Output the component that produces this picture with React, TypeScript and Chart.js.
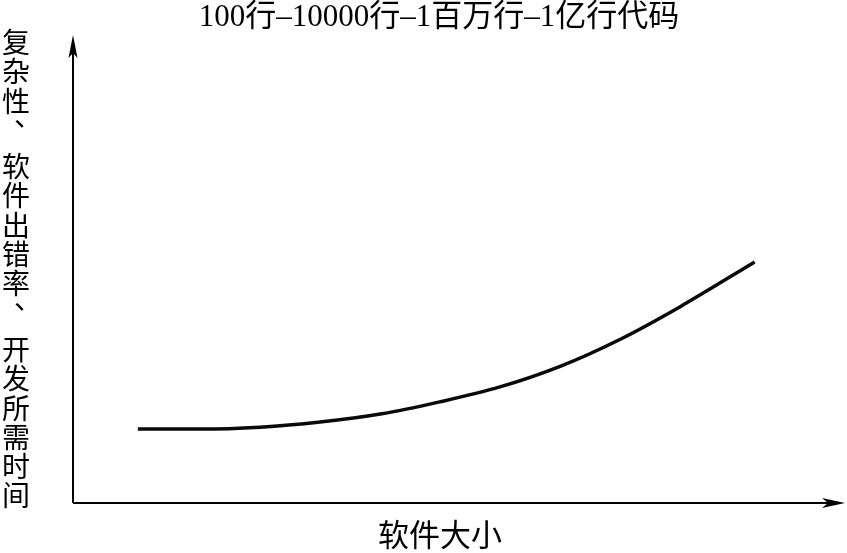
import React, { useEffect, useRef } from "react";
import { Chart, registerables } from "chart.js";

Chart.register(...registerables);

const titleText = "100行–10000行–1百万行–1亿行代码";
const yLabel = "复杂性、软件出错率、开发所需时间";
const xLabel = "软件大小";

const sizeValues = [8.4, 16.5, 24.2, 32.0, 39.8, 47.5, 55.3, 63.1, 70.9, 78.6, 88.3];
const complexityValues = [15.8, 15.8, 16.2, 17.3, 19.0, 21.6, 24.8, 29.2, 35.0, 41.9, 51.5];

const arrowAxes = {
  id: "arrowAxes",
  afterDraw(chart: any) {
    const { ctx, chartArea } = chart;
    const { left, right, top, bottom } = chartArea;
    ctx.save();
    ctx.strokeStyle = "#000";
    ctx.fillStyle = "#000";
    ctx.lineWidth = 2;
    ctx.beginPath();
    ctx.moveTo(left, bottom);
    ctx.lineTo(right - 10, bottom);
    ctx.moveTo(left, bottom);
    ctx.lineTo(left, top + 10);
    ctx.stroke();
    ctx.beginPath();
    ctx.moveTo(right, bottom);
    ctx.lineTo(right - 23, bottom - 5);
    ctx.lineTo(right - 17, bottom);
    ctx.lineTo(right - 23, bottom + 5);
    ctx.closePath();
    ctx.fill();
    ctx.beginPath();
    ctx.moveTo(left, top);
    ctx.lineTo(left - 4.5, top + 23);
    ctx.lineTo(left, top + 18);
    ctx.lineTo(left + 4.5, top + 23);
    ctx.closePath();
    ctx.fill();
    ctx.restore();
  },
};

export default function App() {
  const ref = useRef<HTMLCanvasElement>(null);
  useEffect(() => {
    if (!ref.current) return;
    const chart = new Chart(ref.current, {
      type: "line",
      data: {
        datasets: [
          {
            data: sizeValues.map((x, i) => ({ x, y: complexityValues[i] })),
            borderColor: "#0a0a0a",
            borderWidth: 3.5,
            pointRadius: 0,
            cubicInterpolationMode: "monotone",
            fill: false,
          },
        ],
      },
      options: {
        animation: false,
        responsive: false,
        layout: { padding: { left: 73, top: 35, right: 2, bottom: 50 } },
        plugins: { legend: { display: false }, tooltip: { enabled: false }, title: { display: false } },
        scales: {
          x: { type: "linear", min: 0, max: 100, display: false },
          y: { type: "linear", min: 0, max: 100, display: false },
        },
      },
      plugins: [arrowAxes],
    });
    return () => chart.destroy();
  }, []);

  const font = '"Liberation Serif", "Noto Sans CJK SC", serif';
  const cjk = '"Noto Sans CJK SC", sans-serif';
  return (
    <div style={{ position: "fixed", left: 0, top: 0, width: 847, height: 553, background: "#fff" }}>
      <canvas ref={ref} width={847} height={553} style={{ position: "absolute", left: 0, top: 0 }} />
      <div
        style={{
          position: "absolute",
          left: 0,
          top: -2,
          width: 878,
          textAlign: "center",
          fontFamily: font,
          fontSize: 31,
          lineHeight: "36px",
          color: "#000",
          whiteSpace: "nowrap",
        }}
      >
        {titleText}
      </div>
      <div style={{ position: "absolute", left: 2, top: 27, width: 30, fontFamily: cjk, fontSize: 28, color: "#000" }}>
        {Array.from(yLabel).map((c, i) =>
          c === "、" ? (
            <div key={i} style={{ height: 29.3, lineHeight: "29.3px", marginBottom: 7, overflow: "visible" }}>
              <span style={{ display: "inline-block", transform: "translate(12px, -15px)" }}>{c}</span>
            </div>
          ) : (
            <div key={i} style={{ height: 29.3, lineHeight: "29.3px", overflow: "visible" }}>
              {c}
            </div>
          )
        )}
      </div>
      <div
        style={{
          position: "absolute",
          left: 378,
          top: 514,
          fontFamily: cjk,
          fontSize: 31,
          lineHeight: "38px",
          color: "#000",
          whiteSpace: "nowrap",
        }}
      >
        {xLabel}
      </div>
    </div>
  );
}
